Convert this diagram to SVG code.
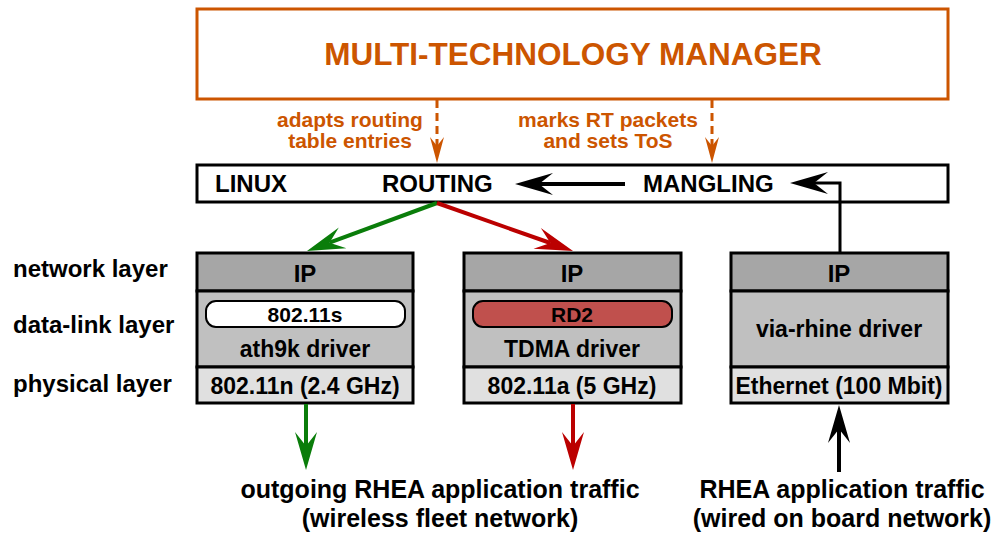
<svg xmlns="http://www.w3.org/2000/svg" width="997" height="540" viewBox="0 0 997 540">
<style>
text{font-family:"Liberation Sans",Arial,sans-serif;font-weight:bold;fill:#000}
.or{fill:#cc5500}
.c{text-anchor:middle}
.box{stroke:#000;stroke-width:3}
.ip{fill:#a6a6a6}
.mid{fill:#c0c0c0}
.phy{fill:#e0e0e0}
.t23{font-size:23px}
.t24{font-size:24px}
.t25{font-size:25px}
.t21{font-size:21px}
</style>
<defs>
<marker id="ab" markerUnits="userSpaceOnUse" markerWidth="60" markerHeight="40" refX="0" refY="0" orient="auto" overflow="visible"><path d="M24 0 L-14 -11 L0 0 L-14 11 Z" fill="#000"/></marker>
<marker id="ag" markerUnits="userSpaceOnUse" markerWidth="60" markerHeight="40" refX="0" refY="0" orient="auto" overflow="visible"><path d="M24 0 L-14 -11 L0 0 L-14 11 Z" fill="#0a7d0a"/></marker>
<marker id="ar" markerUnits="userSpaceOnUse" markerWidth="60" markerHeight="40" refX="0" refY="0" orient="auto" overflow="visible"><path d="M24 0 L-14 -11 L0 0 L-14 11 Z" fill="#bb0000"/></marker>
<marker id="ao" markerUnits="userSpaceOnUse" markerWidth="40" markerHeight="30" refX="0" refY="0" orient="auto" overflow="visible"><path d="M17 0 L-9 -7 L0 0 L-9 7 Z" fill="#cc5500"/></marker>
</defs>

<g id="manager">
<rect x="197" y="9" width="751" height="90" fill="#fff" stroke="#cc5500" stroke-width="3"/>
<text x="573" y="65" class="or c" font-size="31.5">MULTI-TECHNOLOGY MANAGER</text>
</g>

<g id="linux">
<rect x="197" y="165" width="751" height="37" fill="#fff" stroke="#000" stroke-width="3"/>
<text x="215" y="192" class="t24">LINUX</text>
<text x="382" y="192" class="t24">ROUTING</text>
<text x="643" y="192" class="t24">MANGLING</text>
</g>

<g id="labels">
<text x="13" y="277" class="t24">network layer</text>
<text x="13" y="333" class="t24">data-link layer</text>
<text x="13" y="392" class="t24">physical layer</text>
<text x="350" y="127" class="or c t21">adapts routing</text>
<text x="350" y="148" class="or c t21">table entries</text>
<text x="608" y="127" class="or c t21">marks RT packets</text>
<text x="608" y="148" class="or c t21">and sets ToS</text>
<text x="440" y="498" class="c t25">outgoing RHEA application traffic</text>
<text x="440" y="527" class="c t25">(wireless fleet network)</text>
<text x="842" y="498" class="c t25">RHEA application traffic</text>
<text x="842" y="527" class="c t25">(wired on board network)</text>
</g>

<g id="stack1">
<rect x="197" y="253" width="216" height="38" class="box ip"/>
<rect x="197" y="291" width="216" height="76" class="box mid"/>
<rect x="197" y="367" width="216" height="36" class="box phy"/>
<text x="305" y="282" class="c t24">IP</text>
<rect x="206" y="301" width="199" height="26" rx="10" fill="#fff" stroke="#000" stroke-width="2"/>
<text x="305" y="322" class="c t21">802.11s</text>
<text x="305" y="357" class="c t23">ath9k driver</text>
<text x="305" y="394" class="c t23">802.11n (2.4 GHz)</text>
</g>

<g id="stack2">
<rect x="464" y="253" width="217" height="38" class="box ip"/>
<rect x="464" y="291" width="217" height="76" class="box mid"/>
<rect x="464" y="367" width="217" height="36" class="box phy"/>
<text x="572" y="282" class="c t24">IP</text>
<rect x="473" y="301" width="199" height="26" rx="10" fill="#c0504d" stroke="#000" stroke-width="2"/>
<text x="572" y="322" class="c t21">RD2</text>
<text x="572" y="357" class="c t23">TDMA driver</text>
<text x="572" y="394" class="c t23">802.11a (5 GHz)</text>
</g>

<g id="stack3">
<rect x="731" y="253" width="217" height="38" class="box ip"/>
<rect x="731" y="291" width="217" height="76" class="box mid"/>
<rect x="731" y="367" width="217" height="36" class="box phy"/>
<text x="839" y="282" class="c t24">IP</text>
<text x="839" y="337" class="c t23">via-rhine driver</text>
<text x="839" y="394" class="c t23">Ethernet (100 Mbit)</text>
</g>

<g id="connectors" fill="none">
<path d="M437 100 L437 146" stroke="#cc5500" stroke-width="3" stroke-dasharray="8 5" marker-end="url(#ao)"/>
<path d="M712 100 L712 146" stroke="#cc5500" stroke-width="3" stroke-dasharray="8 5" marker-end="url(#ao)"/>
<path d="M625 184 L539 184" stroke="#000" stroke-width="4" marker-end="url(#ab)"/>
<path d="M840 253 L840 183 L814 183" stroke="#000" stroke-width="3" marker-end="url(#ab)"/>
<path d="M437 203 L329.5 242.7" stroke="#0a7d0a" stroke-width="4" marker-end="url(#ag)"/>
<path d="M437 203 L550.4 243" stroke="#bb0000" stroke-width="4" marker-end="url(#ar)"/>
<path d="M306 404 L306 446" stroke="#0a7d0a" stroke-width="4" marker-end="url(#ag)"/>
<path d="M573 404 L573 446" stroke="#bb0000" stroke-width="4" marker-end="url(#ar)"/>
<path d="M839 472 L839 429" stroke="#000" stroke-width="4" marker-end="url(#ab)"/>
</g>
</svg>
